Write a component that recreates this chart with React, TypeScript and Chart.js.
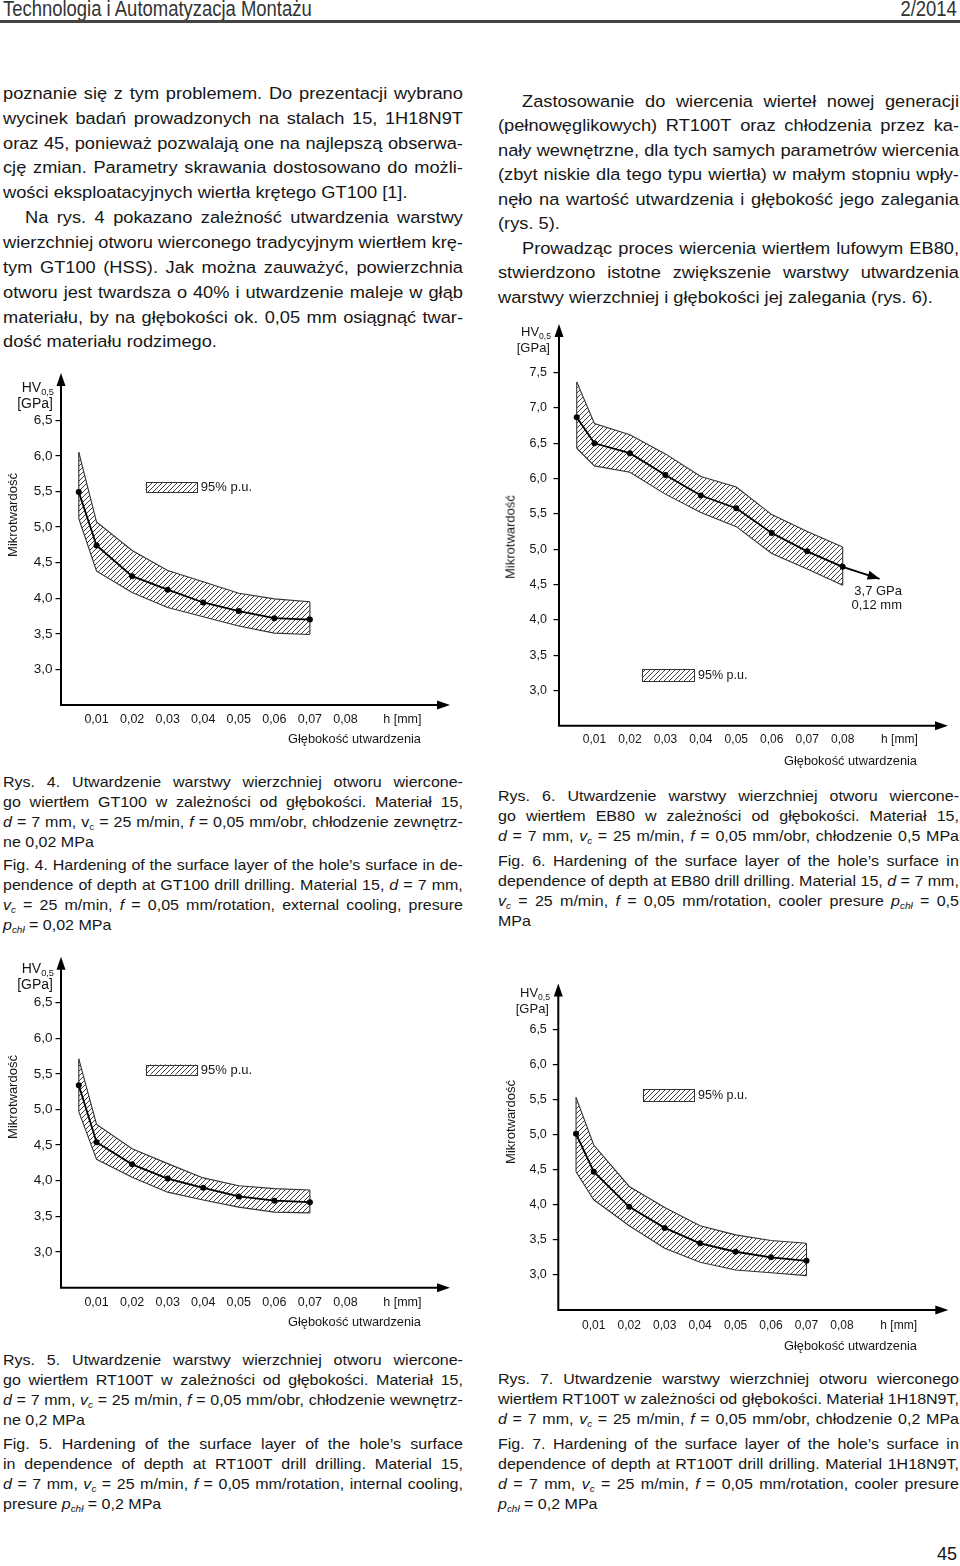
import React, { useEffect, useRef } from 'react';
import { Chart, registerables } from 'chart.js';

Chart.register(...registerables);

const FONT = "'Liberation Sans', Arial, Helvetica, sans-serif";
const INK = '#161616';
Chart.defaults.font.family = FONT;
Chart.defaults.color = INK;

// ---------------- data ----------------
const DEPTH_MM = [0.005, 0.01, 0.02, 0.03, 0.04, 0.05, 0.06, 0.07];
const DEPTH_MM_EB80 = [0.005, 0.01, 0.02, 0.03, 0.04, 0.05, 0.06, 0.07, 0.08];

// Rys. 4 – GT100, material 15
const GT100_HV = [5.49, 4.74, 4.31, 4.12, 3.94, 3.82, 3.72, 3.7];
const GT100_UPPER = [6.05, 5.07, 4.67, 4.39, 4.23, 4.07, 3.99, 3.95];
const GT100_LOWER = [5.12, 4.38, 4.08, 3.87, 3.74, 3.61, 3.51, 3.49];

// Rys. 6 – EB80, material 15
const EB80_HV = [6.87, 6.5, 6.36, 6.05, 5.76, 5.58, 5.23, 4.97, 4.75];
const EB80_UPPER = [7.37, 6.78, 6.62, 6.35, 6.03, 5.88, 5.49, 5.25, 5.03];
const EB80_LOWER = [6.43, 6.18, 6.09, 5.78, 5.52, 5.32, 4.94, 4.72, 4.49];
const EB80_TREND_END = { x: 0.0904, y: 4.58 };
const EB80_TREND_NOTE = ['3,7 GPa', '0,12 mm'];

// Rys. 5 – RT100T, material 15
const RT15_HV = [5.34, 4.54, 4.23, 4.03, 3.9, 3.78, 3.72, 3.7];
const RT15_UPPER = [5.71, 4.79, 4.45, 4.24, 4.04, 3.93, 3.89, 3.87];
const RT15_LOWER = [4.97, 4.3, 4.05, 3.84, 3.73, 3.63, 3.56, 3.55];

// Rys. 7 – RT100T, material 1H18N9T
const RT18_HV = [5.01, 4.47, 3.97, 3.67, 3.45, 3.33, 3.25, 3.2];
const RT18_UPPER = [5.53, 4.85, 4.26, 3.96, 3.7, 3.57, 3.49, 3.45];
const RT18_LOWER = [4.47, 4.07, 3.7, 3.38, 3.18, 3.07, 3.03, 2.99];

const X_TICKS = [0.01, 0.02, 0.03, 0.04, 0.05, 0.06, 0.07, 0.08];
const X_TICK_LABELS = ['0,01', '0,02', '0,03', '0,04', '0,05', '0,06', '0,07', '0,08'];
const X_UNIT_AT = 0.096;
const X_UNIT_LABEL = 'h [mm]';
const Y_TICKS_65 = [3.0, 3.5, 4.0, 4.5, 5.0, 5.5, 6.0, 6.5];
const Y_LABELS_65 = ['3,0', '3,5', '4,0', '4,5', '5,0', '5,5', '6,0', '6,5'];
const Y_TICKS_75 = [3.0, 3.5, 4.0, 4.5, 5.0, 5.5, 6.0, 6.5, 7.0, 7.5];
const Y_LABELS_75 = ['3,0', '3,5', '4,0', '4,5', '5,0', '5,5', '6,0', '6,5', '7,0', '7,5'];
const LEGEND_TEXT = '95% p.u.';
const Y_TITLE = 'Mikrotwardość';
const X_TITLE = 'Głębokość utwardzenia';

// ---------------- texts ----------------
// '>' = indented first line, '|' = last (not justified) line
const LEFT_BODY = [
  'poznanie się z tym problemem. Do prezentacji wybrano',
  'wycinek badań prowadzonych na stalach 15, 1H18N9T',
  'oraz 45, ponieważ pozwalają one na najlepszą obserwa-',
  'cję zmian. Parametry skrawania dostosowano do możli-',
  'wości eksploatacyjnych wiertła krętego GT100 [1].|',
  '>Na rys. 4 pokazano zależność utwardzenia warstwy',
  'wierzchniej otworu wierconego tradycyjnym wiertłem krę-',
  'tym GT100 (HSS). Jak można zauważyć, powierzchnia',
  'otworu jest twardsza o 40% i utwardzenie maleje w głąb',
  'materiału, by na głębokości ok. 0,05 mm osiągnąć twar-',
  'dość materiału rodzimego.|',
];
const RIGHT_BODY = [
  '>Zastosowanie do wiercenia wierteł nowej generacji',
  '(pełnowęglikowych) RT100T oraz chłodzenia przez ka-',
  'nały wewnętrzne, dla tych samych parametrów wiercenia',
  '(zbyt niskie dla tego typu wiertła) w małym stopniu wpły-',
  'nęło na wartość utwardzenia i głębokość jego zalegania',
  '(rys. 5).|',
  '>Prowadząc proces wiercenia wiertłem lufowym EB80,',
  'stwierdzono istotne zwiększenie warstwy utwardzenia',
  'warstwy wierzchniej i głębokości jej zalegania (rys. 6).|',
];
const RYS4_PL = [
  'Rys. 4. Utwardzenie warstwy wierzchniej otworu wiercone-',
  'go wiertłem GT100 w zależności od głębokości. Materiał 15,',
  '*d* = 7 mm, v_{c} = 25 m/min, *f* = 0,05 mm/obr, chłodzenie zewnętrz-',
  'ne 0,02 MPa|',
];
const RYS4_EN = [
  'Fig. 4. Hardening of the surface layer of the hole’s surface in de-',
  'pendence of depth at GT100 drill drilling. Material 15, *d* = 7 mm,',
  '*v*_{*c*} = 25 m/min, *f* = 0,05 mm/rotation, external cooling, presure',
  '*p*_{*chł*} = 0,02 MPa|',
];
const RYS6_PL = [
  'Rys. 6. Utwardzenie warstwy wierzchniej otworu wiercone-',
  'go wiertłem EB80 w zależności od głębokości. Materiał 15,',
  '*d* = 7 mm, *v*_{*c*} = 25 m/min, *f* = 0,05 mm/obr, chłodzenie 0,5 MPa',
];
const RYS6_EN = [
  'Fig. 6. Hardening of the surface layer of the hole’s surface in',
  'dependence of depth at EB80 drill drilling. Material 15, *d* = 7 mm,',
  '*v*_{*c*} = 25 m/min, *f* = 0,05 mm/rotation, cooler presure *p*_{*chł*} = 0,5',
  'MPa|',
];
const RYS5_PL = [
  'Rys. 5. Utwardzenie warstwy wierzchniej otworu wiercone-',
  'go wiertłem RT100T w zależności od głębokości. Materiał 15,',
  '*d* = 7 mm, *v*_{*c*} = 25 m/min, *f* = 0,05 mm/obr, chłodzenie wewnętrz-',
  'ne 0,2 MPa|',
];
const RYS5_EN = [
  'Fig. 5. Hardening of the surface layer of the hole’s surface',
  'in dependence of depth at RT100T drill drilling. Material 15,',
  '*d* = 7 mm, *v*_{*c*} = 25 m/min, *f* = 0,05 mm/rotation, internal cooling,',
  'presure *p*_{*chł*} = 0,2 MPa|',
];
const RYS7_PL = [
  'Rys. 7. Utwardzenie warstwy wierzchniej otworu wierconego',
  'wiertłem RT100T w zależności od głębokości. Materiał 1H18N9T,',
  '*d* = 7 mm, *v*_{*c*} = 25 m/min, *f* = 0,05 mm/obr, chłodzenie 0,2 MPa',
];
const RYS7_EN = [
  'Fig. 7. Hardening of the surface layer of the hole’s surface in',
  'dependence of depth at RT100T drill drilling. Material 1H18N9T,',
  '*d* = 7 mm, *v*_{*c*} = 25 m/min, *f* = 0,05 mm/rotation, cooler presure',
  '*p*_{*chł*} = 0,2 MPa|',
];

// ---------------- helpers ----------------
function rich(tok: string, key: number) {
  const parts = tok.split(/(\*[^*]+\*|_\{[^}]+\})/).filter((s) => s.length > 0);
  return (
    <span key={key}>
      {parts.map((pt, i) => {
        if (pt.startsWith('_{')) {
          const inner = pt.slice(2, -1);
          const it = inner.startsWith('*');
          return (
            <span key={i} style={{ fontSize: '0.62em', position: 'relative', top: '0.38em', fontStyle: it ? 'italic' : 'normal' }}>
              {it ? inner.slice(1, -1) : inner}
            </span>
          );
        }
        if (pt.startsWith('*')) return <i key={i}>{pt.slice(1, -1)}</i>;
        return <React.Fragment key={i}>{pt}</React.Fragment>;
      })}
    </span>
  );
}

function TextBlock(props: { x: number; width: number; y0: number; step: number; size: number; scale: number; indent?: number; lines: string[] }) {
  const { x, width, y0, step, size, scale, indent = 0, lines } = props;
  const inner = width / scale;
  return (
    <div style={{ position: 'absolute', left: x, top: 0, width: inner, height: 0, transform: `scaleX(${scale})`, transformOrigin: '0 0' }}>
      {lines.map((raw, i) => {
        let s = raw;
        const ind = s.startsWith('>');
        if (ind) s = s.slice(1);
        const last = s.endsWith('|');
        if (last) s = s.slice(0, -1);
        const toks = s.split(' ');
        return (
          <div
            key={i}
            style={{
              position: 'absolute', left: 0, width: inner, top: y0 + i * step - step / 2, height: step,
              lineHeight: `${step}px`, fontSize: size, display: 'flex',
              justifyContent: last ? 'flex-start' : 'space-between', columnGap: last ? '0.278em' : 0,
              paddingLeft: ind ? indent / scale : 0, boxSizing: 'border-box', whiteSpace: 'nowrap', color: INK,
            }}
          >
            {toks.map(rich)}
          </div>
        );
      })}
    </div>
  );
}

function Txt(props: { x: number; y: number; align?: 'left' | 'right' | 'center'; size: number; rotate?: number; children: any }) {
  const { x, y, align = 'left', size, rotate, children } = props;
  const tx = align === 'left' ? '0' : align === 'right' ? '-100%' : '-50%';
  return (
    <div
      style={{
        position: 'absolute', left: x, top: y,
        transform: `translate(${tx}, -50%)${rotate ? ` rotate(${rotate}deg)` : ''}`,
        fontSize: size, lineHeight: 1.15, whiteSpace: 'nowrap', color: INK,
      }}
    >
      {children}
    </div>
  );
}

function makeHatch(): CanvasPattern | string {
  const c = document.createElement('canvas');
  c.width = 5;
  c.height = 5;
  const g = c.getContext('2d');
  if (!g) return '#999';
  g.strokeStyle = '#333';
  g.lineWidth = 0.95;
  g.beginPath();
  g.moveTo(-1, 6); g.lineTo(6, -1);
  g.moveTo(-1, 1); g.lineTo(1, -1);
  g.moveTo(4, 6); g.lineTo(6, 4);
  g.stroke();
  return g.createPattern(c, 'repeat') || '#999';
}

function arrowHead(ctx: CanvasRenderingContext2D, fx: number, fy: number, tx: number, ty: number, len = 13, half = 4.5) {
  const a = Math.atan2(ty - fy, tx - fx);
  const c = Math.cos(a), s = Math.sin(a);
  ctx.beginPath();
  ctx.moveTo(tx, ty);
  ctx.lineTo(tx - len * c + half * s, ty - len * s - half * c);
  ctx.lineTo(tx - len * c - half * s, ty - len * s + half * c);
  ctx.closePath();
  ctx.fill();
}

type Spec = {
  left: number; top: number; width: number; height: number;
  area: { l: number; t: number; r: number; b: number };
  xMax: number; yMax: number;
  depth: number[]; hv: number[]; upper: number[]; lower: number[];
  yTicks: number[]; yLabels: string[];
  xFont: number; yFont: number; yPad: number; xPad: number;
  legend: { x0: number; x1: number; y0: number; y1: number };
  trendEnd?: { x: number; y: number };
};

function HardnessChart({ spec }: { spec: Spec }) {
  const ref = useRef<HTMLCanvasElement | null>(null);
  useEffect(() => {
    const canvas = ref.current;
    if (!canvas) return;
    const hatch = makeHatch();
    const pts = (ys: number[]) => spec.depth.map((x, i) => ({ x, y: ys[i] }));
    const n = spec.depth.length - 1;
    const bandLine = { borderColor: '#333', borderWidth: 1.1, pointRadius: 0, fill: false, tension: 0 };
    const datasets: any[] = [
      { label: 'HV', data: pts(spec.hv), borderColor: '#000', borderWidth: 1.8, pointRadius: 3, pointBackgroundColor: '#000', pointBorderWidth: 0, fill: false, tension: 0 },
    ];
    if (spec.trendEnd) {
      datasets.push({ label: 'trend', data: [{ x: spec.depth[n], y: spec.hv[n] }, spec.trendEnd], borderColor: '#000', borderWidth: 1.8, pointRadius: 0, fill: false });
    }
    datasets.push(
      { label: 'upper', data: pts(spec.upper), ...bandLine, fill: '+1', backgroundColor: hatch },
      { label: 'lower', data: pts(spec.lower), ...bandLine },
      { label: 'edgeL', data: [{ x: spec.depth[0], y: spec.lower[0] }, { x: spec.depth[0], y: spec.upper[0] }], ...bandLine },
      { label: 'edgeR', data: [{ x: spec.depth[n], y: spec.lower[n] }, { x: spec.depth[n], y: spec.upper[n] }], ...bandLine },
    );
    const xTickVals = [...X_TICKS, X_UNIT_AT];
    const xTickLabels = [...X_TICK_LABELS, X_UNIT_LABEL];

    const decor = {
      id: 'decor',
      afterDatasetsDraw(chart: any) {
        const ctx: CanvasRenderingContext2D = chart.ctx;
        const a = chart.chartArea;
        const xs = chart.scales.x;
        const ys = chart.scales.y;
        ctx.save();
        ctx.strokeStyle = '#000';
        ctx.fillStyle = '#000';
        ctx.lineWidth = 2;
        ctx.beginPath();
        ctx.moveTo(a.left, a.top + 8);
        ctx.lineTo(a.left, a.bottom);
        ctx.lineTo(a.right - 8, a.bottom);
        ctx.stroke();
        arrowHead(ctx, a.left, a.bottom, a.left, a.top);
        arrowHead(ctx, a.left, a.bottom, a.right, a.bottom);
        // legend
        const lx0 = xs.getPixelForValue(spec.legend.x0);
        const lx1 = xs.getPixelForValue(spec.legend.x1);
        const ly0 = ys.getPixelForValue(spec.legend.y1);
        const ly1 = ys.getPixelForValue(spec.legend.y0);
        ctx.fillStyle = hatch as any;
        ctx.fillRect(lx0, ly0, lx1 - lx0, ly1 - ly0);
        ctx.lineWidth = 1;
        ctx.strokeStyle = '#333';
        ctx.strokeRect(Math.round(lx0) + 0.5, Math.round(ly0) + 0.5, Math.round(lx1 - lx0), Math.round(ly1 - ly0));
        ctx.fillStyle = INK;
        ctx.font = `${spec.xFont + 0.5}px ${FONT}`;
        ctx.textBaseline = 'middle';
        ctx.textAlign = 'left';
        ctx.fillText(LEGEND_TEXT, lx1 + 4, (ly0 + ly1) / 2 + 0.5);
        if (spec.trendEnd) {
          const meta = chart.getDatasetMeta(1);
          const q0 = meta.data[0];
          const q1 = meta.data[1];
          ctx.fillStyle = '#000';
          arrowHead(ctx, q0.x, q0.y, q1.x, q1.y, 12, 4.5);
        }
        ctx.restore();
      },
    };

    const chart = new Chart(canvas, {
      type: 'line',
      data: { datasets },
      options: {
        animation: false,
        responsive: false,
        devicePixelRatio: 1,
        events: [],
        layout: { autoPadding: false, padding: { left: 0, top: spec.area.t, right: spec.width - spec.area.r, bottom: 0 } },
        plugins: { legend: { display: false }, tooltip: { enabled: false } },
        scales: {
          x: {
            type: 'linear', min: 0, max: spec.xMax,
            afterBuildTicks: (s: any) => { s.ticks = xTickVals.map((v) => ({ value: v })); },
            afterFit: (s: any) => { s.height = spec.height - spec.area.b; },
            ticks: { autoSkip: false, maxRotation: 0, padding: spec.xPad, font: { size: spec.xFont }, color: INK, callback: (_v: any, i: number) => xTickLabels[i] },
            grid: { display: false, drawTicks: false, tickLength: 0 },
            border: { display: false },
          },
          y: {
            type: 'linear', min: 2.5, max: spec.yMax,
            afterBuildTicks: (s: any) => { s.ticks = spec.yTicks.map((v) => ({ value: v })); },
            afterFit: (s: any) => { s.width = spec.area.l; },
            ticks: { autoSkip: false, padding: spec.yPad, font: { size: spec.yFont }, color: INK, callback: (_v: any, i: number) => spec.yLabels[i] },
            grid: { display: true, drawOnChartArea: false, drawTicks: true, tickLength: 5.5, color: '#000', lineWidth: 1.2 },
            border: { display: false },
          },
        },
      } as any,
      plugins: [decor as any],
    });
    return () => chart.destroy();
  }, []);
  return (
    <canvas
      ref={ref}
      width={spec.width}
      height={spec.height}
      style={{ position: 'absolute', left: spec.left, top: spec.top, width: spec.width, height: spec.height }}
    />
  );
}

// ---------------- chart specs (layout) ----------------
const SPEC_RYS4: Spec = {
  left: 0, top: 360, width: 480, height: 400, area: { l: 61, t: 13, r: 450, b: 345 },
  xMax: 0.1094, yMax: 7.163, depth: DEPTH_MM, hv: GT100_HV, upper: GT100_UPPER, lower: GT100_LOWER,
  yTicks: Y_TICKS_65, yLabels: Y_LABELS_65, xFont: 12.5, yFont: 13.5, yPad: 3, xPad: 7,
  legend: { x0: 0.0238, x1: 0.0382, y0: 5.49, y1: 5.63 },
};
const SPEC_RYS6: Spec = {
  left: 480, top: 310, width: 480, height: 460, area: { l: 79, t: 13.3, r: 468, b: 415.7 },
  xMax: 0.1097, yMax: 8.19, depth: DEPTH_MM_EB80, hv: EB80_HV, upper: EB80_UPPER, lower: EB80_LOWER,
  yTicks: Y_TICKS_75, yLabels: Y_LABELS_75, xFont: 12, yFont: 12.5, yPad: 6.5, xPad: 7,
  legend: { x0: 0.0235, x1: 0.0381, y0: 3.13, y1: 3.3 }, trendEnd: EB80_TREND_END,
};
const SPEC_RYS5: Spec = {
  left: 0, top: 945, width: 480, height: 400, area: { l: 61, t: 11.7, r: 450, b: 342.7 },
  xMax: 0.1094, yMax: 7.142, depth: DEPTH_MM, hv: RT15_HV, upper: RT15_UPPER, lower: RT15_LOWER,
  yTicks: Y_TICKS_65, yLabels: Y_LABELS_65, xFont: 12.5, yFont: 13.5, yPad: 3, xPad: 7,
  legend: { x0: 0.0238, x1: 0.0382, y0: 5.49, y1: 5.63 },
};
const SPEC_RYS7: Spec = {
  left: 480, top: 970, width: 480, height: 390, area: { l: 78.3, t: 10, r: 468.3, b: 340 },
  xMax: 0.11, yMax: 7.152, depth: DEPTH_MM, hv: RT18_HV, upper: RT18_UPPER, lower: RT18_LOWER,
  yTicks: Y_TICKS_65, yLabels: Y_LABELS_65, xFont: 12, yFont: 12.5, yPad: 6, xPad: 8.5,
  legend: { x0: 0.024, x1: 0.0383, y0: 5.47, y1: 5.645 },
};

function HvLabel({ x, y, size }: { x: number; y: number; size: number }) {
  return (
    <>
      <Txt x={x} y={y} align="right" size={size}>
        HV<span style={{ fontSize: '0.66em', position: 'relative', top: '0.3em' }}>0,5</span>
      </Txt>
      <Txt x={x - 1} y={y + 16} align="right" size={size}>[GPa]</Txt>
    </>
  );
}

export default function App() {
  useEffect(() => {
    document.body.style.margin = '0';
  }, []);
  return (
    <div style={{ position: 'absolute', left: 0, top: 0, width: 960, height: 1566, background: '#fff', overflow: 'hidden', fontFamily: FONT, color: INK }}>
      {/* header */}
      <div style={{ position: 'absolute', left: 3, top: -2, fontSize: 22.5, lineHeight: '22px', color: '#333', transform: 'scaleX(0.82)', transformOrigin: '0 0', whiteSpace: 'nowrap' }}>
        Technologia i Automatyzacja Montażu
      </div>
      <div style={{ position: 'absolute', right: 3, top: -2, fontSize: 22.5, lineHeight: '22px', color: '#333', transform: 'scaleX(0.82)', transformOrigin: '100% 0', whiteSpace: 'nowrap' }}>
        2/2014
      </div>
      <div style={{ position: 'absolute', left: 0, top: 20, width: 960, height: 3, background: '#444' }} />

      {/* body text */}
      <TextBlock x={3} width={460} y0={93.3} step={24.85} size={16.3} scale={1.12} indent={22} lines={LEFT_BODY} />
      <TextBlock x={498} width={461} y0={101} step={24.5} size={16.3} scale={1.12} indent={24} lines={RIGHT_BODY} />

      {/* Rys. 4 */}
      <HardnessChart spec={SPEC_RYS4} />
      <HvLabel x={54} y={387} size={14} />
      <Txt x={13} y={515} align="center" size={13} rotate={-90}>{Y_TITLE}</Txt>
      <Txt x={421} y={739} align="right" size={12.8}>{X_TITLE}</Txt>
      <TextBlock x={3} width={460} y0={782} step={20} size={14.3} scale={1.12} lines={RYS4_PL} />
      <TextBlock x={3} width={460} y0={865} step={20} size={14.3} scale={1.12} lines={RYS4_EN} />

      {/* Rys. 6 */}
      <HardnessChart spec={SPEC_RYS6} />
      <HvLabel x={551} y={332} size={13} />
      <Txt x={511} y={537} align="center" size={13} rotate={-90}>{Y_TITLE}</Txt>
      <Txt x={917} y={761} align="right" size={12.8}>{X_TITLE}</Txt>
      <Txt x={902} y={591} align="right" size={13}>{EB80_TREND_NOTE[0]}</Txt>
      <Txt x={902} y={605} align="right" size={13}>{EB80_TREND_NOTE[1]}</Txt>
      <TextBlock x={498} width={461} y0={796} step={20} size={14.3} scale={1.12} lines={RYS6_PL} />
      <TextBlock x={498} width={461} y0={861} step={20} size={14.3} scale={1.12} lines={RYS6_EN} />

      {/* Rys. 5 */}
      <HardnessChart spec={SPEC_RYS5} />
      <HvLabel x={54} y={968} size={14} />
      <Txt x={13} y={1097} align="center" size={13} rotate={-90}>{Y_TITLE}</Txt>
      <Txt x={421} y={1322} align="right" size={12.8}>{X_TITLE}</Txt>
      <TextBlock x={3} width={460} y0={1360} step={20} size={14.3} scale={1.12} lines={RYS5_PL} />
      <TextBlock x={3} width={460} y0={1444} step={20} size={14.3} scale={1.12} lines={RYS5_EN} />

      {/* Rys. 7 */}
      <HardnessChart spec={SPEC_RYS7} />
      <HvLabel x={550} y={993} size={13} />
      <Txt x={511} y={1122} align="center" size={13} rotate={-90}>{Y_TITLE}</Txt>
      <Txt x={917} y={1346} align="right" size={12.8}>{X_TITLE}</Txt>
      <TextBlock x={498} width={461} y0={1379} step={20} size={14.3} scale={1.12} lines={RYS7_PL} />
      <TextBlock x={498} width={461} y0={1444} step={20} size={14.3} scale={1.12} lines={RYS7_EN} />

      {/* page number */}
      <Txt x={957} y={1554} align="right" size={18}>45</Txt>
    </div>
  );
}
